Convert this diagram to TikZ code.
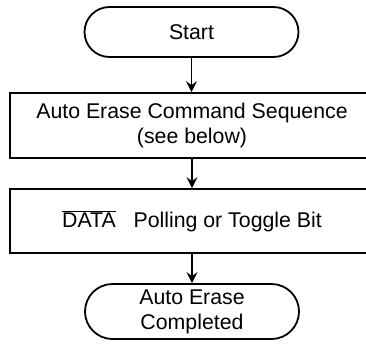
\documentclass[tikz,border=0pt]{standalone}
\usepackage{fontspec}
\setmainfont{Liberation Sans}
\usetikzlibrary{shapes.misc,arrows.meta}
\begin{document}
\begin{tikzpicture}[x=1pt,y=-1pt,
  term/.style={draw,line width=1.8pt,rounded rectangle,minimum width=214pt,inner sep=0pt,align=center,font=\fontsize{21.3}{25}\selectfont},
  procbox/.style={draw,line width=1.8pt,rectangle,minimum width=364pt,inner sep=0pt,align=center,font=\fontsize{21.3}{25}\selectfont},
  flow/.style={line width=1.2pt,-{Stealth[length=11pt,width=11pt,inset=4pt]}}]
\useasboundingbox (0,0) rectangle (366,343);
\node[term,minimum height=50pt] (start) at (191.5,32) {Start};
\node[procbox,minimum height=65pt] (seq) at (192,125.5) {Auto Erase Command Sequence\\(see below)};
\node[procbox,minimum height=64pt] (poll) at (192,221) {$\overline{\mbox{DATA}}$\ \ \ Polling or Toggle Bit};
\node[term,minimum height=55pt] (done) at (192,311.5) {\raisebox{-3pt}{\begin{tabular}{@{}c@{}}Auto Erase\\Completed\end{tabular}}};
\draw[flow] (start.south) -- (seq.north -| start.south);
\draw[flow] (seq.south) -- (poll.north);
\draw[flow] (poll.south) -- (done.north);
\end{tikzpicture}
\end{document}
